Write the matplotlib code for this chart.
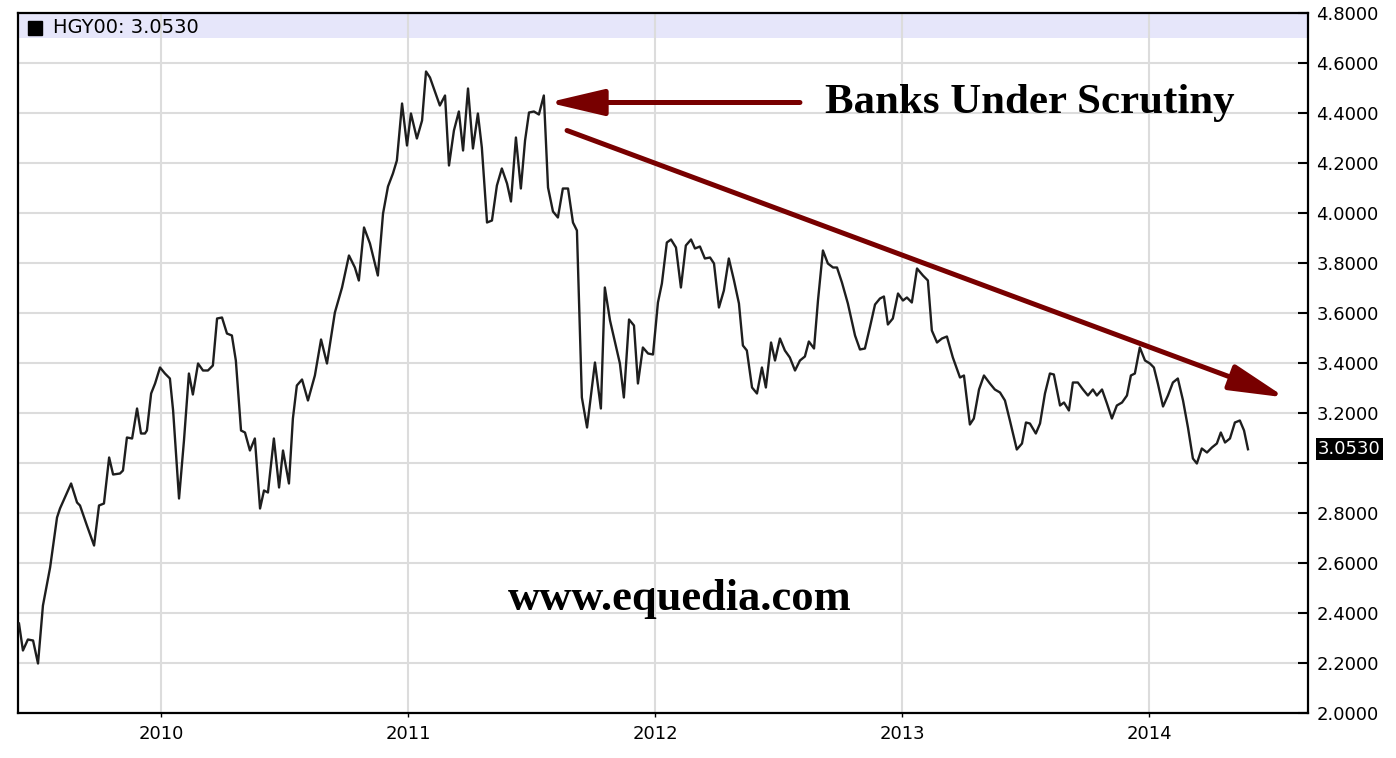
import matplotlib
matplotlib.use("Agg")
import matplotlib.pyplot as plt
import matplotlib.transforms as mtransforms

# weekly copper close (HGY00), decimal years
years = [
    2009.425, 2009.441, 2009.461, 2009.482, 2009.502, 2009.522, 2009.551, 2009.579, 2009.591, 2009.636,
    2009.660, 2009.672, 2009.700, 2009.729, 2009.749, 2009.769, 2009.790, 2009.806, 2009.834, 2009.846,
    2009.862, 2009.883, 2009.903, 2009.919, 2009.935, 2009.943, 2009.960, 2009.976, 2009.996, 2010.016,
    2010.036, 2010.049, 2010.073, 2010.093, 2010.113, 2010.129, 2010.150, 2010.170, 2010.190, 2010.210,
    2010.227, 2010.247, 2010.267, 2010.287, 2010.303, 2010.324, 2010.340, 2010.360, 2010.380, 2010.401,
    2010.417, 2010.433, 2010.457, 2010.478, 2010.494, 2010.518, 2010.534, 2010.550, 2010.571, 2010.595,
    2010.623, 2010.648, 2010.672, 2010.704, 2010.733, 2010.761, 2010.785, 2010.801, 2010.822, 2010.846,
    2010.878, 2010.899, 2010.919, 2010.939, 2010.955, 2010.976, 2010.996, 2011.012, 2011.036, 2011.057,
    2011.073, 2011.089, 2011.129, 2011.150, 2011.166, 2011.186, 2011.206, 2011.223, 2011.243, 2011.263,
    2011.283, 2011.299, 2011.320, 2011.340, 2011.360, 2011.380, 2011.401, 2011.417, 2011.437, 2011.457,
    2011.474, 2011.490, 2011.510, 2011.530, 2011.550, 2011.567, 2011.587, 2011.607, 2011.627, 2011.648,
    2011.668, 2011.684, 2011.704, 2011.725, 2011.757, 2011.781, 2011.797, 2011.818, 2011.846, 2011.858,
    2011.874, 2011.895, 2011.915, 2011.931, 2011.951, 2011.972, 2011.992, 2012.012, 2012.028, 2012.048,
    2012.065, 2012.085, 2012.105, 2012.125, 2012.146, 2012.162, 2012.182, 2012.202, 2012.223, 2012.239,
    2012.259, 2012.279, 2012.299, 2012.320, 2012.340, 2012.356, 2012.372, 2012.393, 2012.413, 2012.433,
    2012.449, 2012.470, 2012.486, 2012.506, 2012.526, 2012.546, 2012.567, 2012.587, 2012.607, 2012.623,
    2012.644, 2012.660, 2012.680, 2012.700, 2012.721, 2012.737, 2012.757, 2012.781, 2012.810, 2012.830,
    2012.850, 2012.870, 2012.891, 2012.911, 2012.927, 2012.943, 2012.963, 2012.984, 2013.004, 2013.020,
    2013.040, 2013.061, 2013.085, 2013.105, 2013.121, 2013.142, 2013.162, 2013.182, 2013.206, 2013.235,
    2013.251, 2013.275, 2013.291, 2013.312, 2013.332, 2013.356, 2013.376, 2013.397, 2013.417, 2013.437,
    2013.465, 2013.486, 2013.502, 2013.518, 2013.542, 2013.559, 2013.579, 2013.599, 2013.615, 2013.640,
    2013.656, 2013.676, 2013.692, 2013.712, 2013.733, 2013.753, 2013.773, 2013.789, 2013.810, 2013.830,
    2013.850, 2013.870, 2013.891, 2013.911, 2013.927, 2013.943, 2013.963, 2013.984, 2014.004, 2014.020,
    2014.036, 2014.057, 2014.077, 2014.097, 2014.117, 2014.138, 2014.158, 2014.178, 2014.194, 2014.214,
    2014.235, 2014.255, 2014.275, 2014.291, 2014.308, 2014.328, 2014.348, 2014.368, 2014.385, 2014.401,
]

price = [
    2.356, 2.248, 2.292, 2.288, 2.196, 2.428, 2.580, 2.780, 2.816, 2.916,
    2.840, 2.828, 2.748, 2.668, 2.828, 2.836, 3.020, 2.952, 2.956, 2.968,
    3.100, 3.096, 3.216, 3.116, 3.116, 3.128, 3.276, 3.316, 3.380, 3.356,
    3.336, 3.208, 2.856, 3.088, 3.356, 3.272, 3.396, 3.368, 3.368, 3.388,
    3.576, 3.580, 3.516, 3.508, 3.408, 3.128, 3.120, 3.048, 3.096, 2.816,
    2.888, 2.880, 3.096, 2.900, 3.048, 2.916, 3.176, 3.308, 3.332, 3.248,
    3.348, 3.492, 3.396, 3.600, 3.700, 3.828, 3.780, 3.728, 3.940, 3.876,
    3.748, 3.996, 4.104, 4.156, 4.208, 4.436, 4.268, 4.396, 4.296, 4.368,
    4.564, 4.540, 4.428, 4.468, 4.188, 4.328, 4.404, 4.248, 4.496, 4.256,
    4.396, 4.260, 3.960, 3.968, 4.108, 4.176, 4.116, 4.044, 4.300, 4.096,
    4.288, 4.400, 4.404, 4.392, 4.468, 4.100, 4.004, 3.980, 4.096, 4.096,
    3.960, 3.928, 3.260, 3.140, 3.400, 3.216, 3.700, 3.568, 3.448, 3.396,
    3.260, 3.572, 3.548, 3.316, 3.460, 3.436, 3.432, 3.640, 3.716, 3.880,
    3.892, 3.860, 3.700, 3.868, 3.892, 3.856, 3.864, 3.816, 3.820, 3.796,
    3.620, 3.688, 3.816, 3.728, 3.636, 3.468, 3.448, 3.300, 3.276, 3.380,
    3.300, 3.480, 3.408, 3.496, 3.448, 3.420, 3.368, 3.408, 3.424, 3.484,
    3.456, 3.648, 3.848, 3.796, 3.780, 3.780, 3.720, 3.636, 3.508, 3.452,
    3.456, 3.540, 3.632, 3.656, 3.664, 3.552, 3.576, 3.676, 3.648, 3.660,
    3.640, 3.776, 3.748, 3.728, 3.528, 3.480, 3.496, 3.504, 3.420, 3.340,
    3.348, 3.152, 3.176, 3.292, 3.348, 3.316, 3.292, 3.280, 3.248, 3.168,
    3.052, 3.076, 3.160, 3.156, 3.116, 3.156, 3.276, 3.356, 3.352, 3.228,
    3.240, 3.208, 3.320, 3.320, 3.292, 3.268, 3.292, 3.268, 3.292, 3.236,
    3.176, 3.228, 3.240, 3.268, 3.348, 3.356, 3.460, 3.408, 3.396, 3.380,
    3.316, 3.224, 3.268, 3.320, 3.336, 3.248, 3.140, 3.016, 2.996, 3.056,
    3.040, 3.060, 3.076, 3.120, 3.080, 3.096, 3.160, 3.168, 3.128, 3.053,
]

year_ticks = [2010, 2011, 2012, 2013, 2014]
year_labels = ['2010', '2011', '2012', '2013', '2014']
price_ticks = [2.0, 2.2, 2.4, 2.6, 2.8, 3.0, 3.2, 3.4, 3.6, 3.8, 4.0, 4.2, 4.4, 4.6, 4.8]
symbol = 'HGY00'

arrow_red = '#780000'

fig = plt.figure(figsize=(13.96, 7.58), dpi=100)
ax = fig.add_axes([18 / 1396, 1 - 712.5 / 758, 1290 / 1396, 700 / 758])

# header strip with the symbol
ax.axhspan(4.70, 4.80, color='#e6e6fa', lw=0, zorder=0)
ax.plot(years, price, color='#1e1e1e', lw=1.7, zorder=3)

ax.set_xlim(2009.421, 2014.644)
ax.set_ylim(2.0, 4.8)
ax.set_xticks(year_ticks)
ax.set_xticklabels(year_labels)
ax.set_yticks(price_ticks)
# the 3.0 label is hidden behind the last-value tag in the original
ax.set_yticklabels(['' if abs(t - 3.0) < 1e-9 else f'{t:.4f}' for t in price_ticks])
ax.yaxis.tick_right()
ax.grid(color='#dcdcdc', lw=1.5)
ax.set_axisbelow(True)
ax.tick_params(axis='y', direction='in', length=7, width=1.5, pad=6,
               labelsize=13, right=True, left=False)
ax.tick_params(axis='x', direction='out', length=3, width=1, pad=6, labelsize=13)
for s in ax.spines.values():
    s.set_linewidth(1.6)

# legend square + last value
ax.plot([0.0132], [0.978], marker='s', ms=10, color='black',
        transform=ax.transAxes, clip_on=False)
ax.text(0.0271, 0.978, f'{symbol}: {price[-1]:.4f}', transform=ax.transAxes,
        fontsize=14, va='center', ha='left')

trans = mtransforms.blended_transform_factory(ax.transAxes, ax.transData)
ax.text(1.0078, price[-1], f'{price[-1]:.4f}', transform=trans, color='white',
        fontsize=13, va='center', ha='left',
        bbox=dict(facecolor='black', edgecolor='none', boxstyle='square,pad=0.12'))

# annotation arrows
style = '-|>,head_length=1.7,head_width=0.4'
ax.annotate('', xy=(2011.567, 4.44), xytext=(2012.587, 4.44),
            arrowprops=dict(arrowstyle=style, mutation_scale=20, color=arrow_red,
                            lw=3.6, shrinkA=0, shrinkB=0))
ax.annotate('', xy=(2014.552, 3.260), xytext=(2011.644, 4.328),
            arrowprops=dict(arrowstyle=style, mutation_scale=20, color=arrow_red,
                            lw=3.6, shrinkA=0, shrinkB=0), annotation_clip=False)

fig.text(825 / 1396, 1 - 113 / 758, 'Banks Under Scrutiny', fontfamily='Liberation Serif',
         fontweight='bold', fontsize=30.9, va='baseline', ha='left')
fig.text(508 / 1396, 1 - 610 / 758, 'www.equedia.com', fontfamily='Liberation Serif',
         fontweight='bold', fontsize=32, va='baseline', ha='left')

fig.savefig('out.png', dpi=100)
